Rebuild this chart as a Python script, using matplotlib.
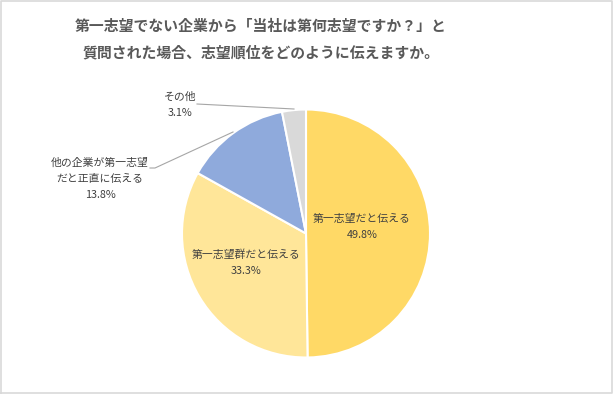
import matplotlib
matplotlib.use("Agg")
import matplotlib.pyplot as plt

plt.rcParams['font.family'] = ['Noto Sans CJK JP', 'DejaVu Sans']

title = "第一志望でない企業から「当社は第何志望ですか？」と\n質問された場合、志望順位をどのように伝えますか。"
categories = ["第一志望だと伝える", "第一志望群だと伝える", "他の企業が第一志望\nだと正直に伝える", "その他"]
values = [49.8, 33.3, 13.8, 3.1]
colors = ["#FFD966", "#FFE699", "#8FAADC", "#D9D9D9"]

W, H = 613, 394
fig = plt.figure(figsize=(W / 100, H / 100), dpi=100)
ax = fig.add_axes([0, 0, 1, 1])

cx, cy, r = 306, H - 233.5, 124
ax.pie(values, colors=colors, startangle=90, counterclock=False, center=(cx, cy), radius=r,
       wedgeprops=dict(edgecolor="white", linewidth=1.5), frame=True)
ax.set_xlim(0, W)
ax.set_ylim(0, H)
ax.set_aspect('equal')
ax.axis('off')

# border
ax.plot([1, W - 1.5, W - 1.5, 1, 1], [1.5, 1.5, H - 1, H - 1, 1.5],
        color="#D9D9D9", linewidth=1.2, clip_on=False)

ax.text(261, H - 39, title, ha='center', va='center', fontsize=10.7, fontweight='bold',
        color="#595959", linespacing=1.8)

lc = "#404040"
fs = 7.8
ax.text(362, H - 227, f"{categories[0]}\n{values[0]}%", ha='center', va='center', fontsize=fs, color=lc, linespacing=1.75)
ax.text(246, H - 263, f"{categories[1]}\n{values[1]}%", ha='center', va='center', fontsize=fs, color=lc, linespacing=1.75)
ax.text(100, H - 179, f"{categories[2]}\n{values[2]}%", ha='center', va='center', fontsize=fs, color=lc, linespacing=1.75)
ax.text(180, H - 105, f"{categories[3]}\n{values[3]}%", ha='center', va='center', fontsize=fs, color=lc, linespacing=1.75)

ax.plot([150, 155, 233], [H - 168, H - 168, H - 132], color="#A6A6A6", linewidth=0.8)
ax.plot([197, 294], [H - 104, H - 109], color="#A6A6A6", linewidth=0.8)

fig.savefig("out.png", dpi=100)
